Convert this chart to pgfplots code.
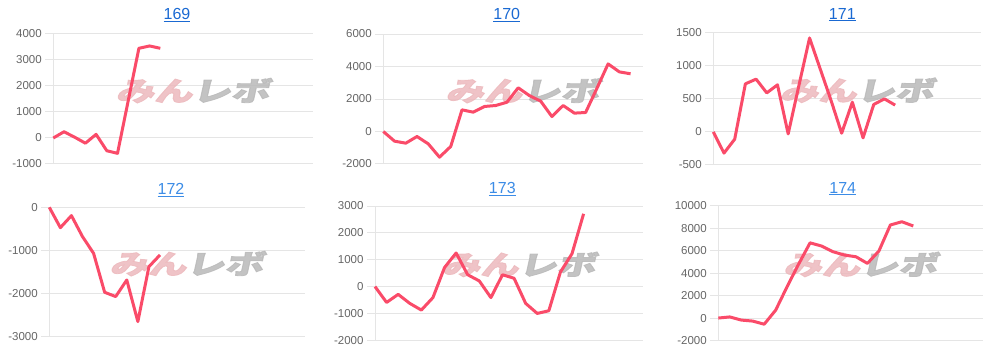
\documentclass[border=0pt]{standalone}
\usepackage{pgfplots}
\pgfplotsset{compat=1.18}
\usepackage{fontspec}
\setmainfont{Liberation Sans}
\newfontfamily\cjk{Noto Sans CJK JP}[FakeBold=3]
\definecolor{linec}{RGB}{250,75,105}
\definecolor{gridc}{RGB}{229,229,229}
\definecolor{zeroc}{RGB}{185,185,185}
\definecolor{tickc}{RGB}{102,102,102}
\definecolor{titleA}{RGB}{26,105,210}
\definecolor{titleB}{RGB}{60,140,230}
\definecolor{wmpink}{RGB}{236,185,189}
\definecolor{wmgray}{RGB}{185,185,185}
\pgfplotsset{
  panel/.style={
    scale only axis,
    anchor=south west,
    xmin=0,
    axis x line=none,
    axis y line=left,
    y axis line style={-, draw=gridc, line width=1pt},
    ymajorgrids,
    major grid style={draw=gridc, line width=1pt},
    tick align=outside,
    major tick length=8pt,
    ytick style={draw=gridc, line width=1pt},
    yticklabel style={font=\fontsize{11.5}{13}\selectfont, text=tickc},
    scaled y ticks=false,
    /pgf/number format/assume math mode=true,
    /pgf/number format/1000 sep={},
    extra y ticks={0},
    extra y tick labels={},
    extra y tick style={grid style={draw=zeroc, line width=1pt}, tick style={draw=gridc}},
    clip=false,
  },
  series/.style={linec, line width=3pt, line join=round, no markers},
}
\newcommand{\wm}{\node[anchor=center, opacity=0.85, xslant=0.22, transform shape] at (axis description cs:0.545,0.565) {\scalebox{1.42}[1]{\cjk\bfseries\fontsize{27}{27}\selectfont\textcolor{wmpink}{みん}\textcolor{wmgray}{レボ}}};}
\begin{document}
\begin{tikzpicture}[x=1pt,y=1pt]
\useasboundingbox (0,0) rectangle (993,351);
% 169
\begin{axis}[panel, at={(53.3pt,187pt)}, width=259.7pt, height=130pt, xmax=24.27, ymin=-1000, ymax=4000, ytick distance=1000]
\wm
\addplot[series] coordinates {(0,0) (1,240) (2,30) (3,-200) (4,140) (5,-490) (6,-590) (7,1430) (8,3450) (9,3540) (10,3450)};
\end{axis}
% 170
\begin{axis}[panel, at={(383.3pt,187pt)}, width=259.3pt, height=130pt, xmax=23.07, ymin=-2000, ymax=6000, ytick distance=2000]
\wm
\addplot[series] coordinates {(0,0) (1,-595) (2,-718) (3,-308) (4,-760) (5,-1580) (6,-920) (7,1333) (8,1190) (9,1540) (10,1600) (11,1800) (12,2690) (13,2210) (14,1870) (15,920) (16,1600) (17,1130) (18,1170) (19,2650) (20,4160) (21,3670) (22,3550)};
\end{axis}
% 171
\begin{axis}[panel, at={(713.3pt,186pt)}, width=267.4pt, height=132.3pt, xmax=25, ymin=-500, ymax=1500, ytick distance=500]
\wm
\addplot[series] coordinates {(0,0) (1,-320) (2,-110) (3,727) (4,798) (5,590) (6,712) (7,-30) (8,700) (9,1420) (10,950) (11,480) (12,-20) (13,450) (14,-90) (15,415) (16,500) (17,405)};
\end{axis}
% 172
\begin{axis}[panel, at={(49.3pt,14.3pt)}, width=255.7pt, height=129.4pt, xmax=23.1, ymin=-3000, ymax=0, ytick distance=1000]
\wm
\addplot[series] coordinates {(0,0) (1,-472) (2,-193) (3,-680) (4,-1067) (5,-1970) (6,-2070) (7,-1685) (8,-2650) (9,-1376) (10,-1105)};
\end{axis}
% 173
\begin{axis}[panel, at={(375pt,10.7pt)}, width=267.7pt, height=134.3pt, xmax=23.1, ymin=-2000, ymax=3000, ytick distance=1000]
\wm
\addplot[series] coordinates {(0,0) (1,-590) (2,-290) (3,-625) (4,-875) (5,-410) (6,710) (7,1250) (8,440) (9,210) (10,-410) (11,440) (12,310) (13,-625) (14,-1000) (15,-900) (16,540) (17,1225) (18,2710)};
\end{axis}
% 174
\begin{axis}[panel, at={(718.3pt,10.5pt)}, width=264.4pt, height=134.7pt, xmax=23.05, ymin=-2000, ymax=10000, ytick distance=2000]
\wm
\addplot[series] coordinates {(0,0) (1,100) (2,-180) (3,-270) (4,-550) (5,700) (6,2800) (7,4800) (8,6700) (9,6415) (10,5910) (11,5610) (12,5460) (13,4870) (14,5970) (15,8290) (16,8580) (17,8200)};
\end{axis}
% titles
\begin{scope}[every node/.style={anchor=base, font=\fontsize{16}{18}\selectfont, inner sep=0pt}]
\node[text=titleA] at (177,331.7) {\underline{169}};
\node[text=titleA] at (506.7,331.7) {\underline{170}};
\node[text=titleA] at (842.3,331.7) {\underline{171}};
\node[text=titleB] at (171,156) {\underline{172}};
\node[text=titleB] at (502.3,157.7) {\underline{173}};
\node[text=titleB] at (842.7,157.7) {\underline{174}};
\end{scope}
\end{tikzpicture}
\end{document}
